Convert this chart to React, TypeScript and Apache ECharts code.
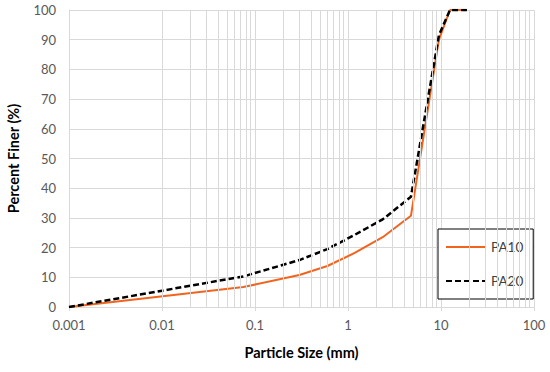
import React, { useEffect, useRef } from "react";
import * as echarts from "echarts";

const sizesPA10 = [0.001, 0.075, 0.3, 0.6, 1.18, 2.36, 4.75, 9.5, 12.5, 19];
const finerPA10 = [0, 6.7, 10.8, 13.8, 18.2, 23.5, 30.7, 90.0, 100, 100];
const sizesPA20 = [0.001, 0.075, 0.3, 0.6, 1.18, 2.36, 4.75, 9.5, 12.5, 19];
const finerPA20 = [0, 10.3, 15.8, 19.5, 24.3, 29.5, 37.1, 91.5, 100, 100];
const xTickLabels = ["0.001", "0.01", "0.1", "1", "10", "100"];
const minorGridValues = [0.001, 0.01, 0.1, 1, 10].flatMap((d) =>
  [2, 3, 4, 5, 6, 7, 8, 9].map((m) => +(d * m).toPrecision(3))
);

const FONT = "Lato, 'Open Sans', sans-serif";
const GRID = "#d9d9d9";

export default function App() {
  const ref = useRef<HTMLDivElement>(null);
  useEffect(() => {
    const chart = echarts.init(ref.current!, null, { renderer: "svg" });
    chart.setOption({
      animation: false,
      backgroundColor: "#ffffff",
      textStyle: { fontFamily: FONT },
      grid: { left: 69, right: 16, top: 10, bottom: 65, containLabel: false, outerBoundsMode: "none" },
      legend: {
        orient: "vertical",
        left: 438,
        top: 229,
        padding: [11, 10, 11, 7],
        itemWidth: 40,
        itemHeight: 14,
        itemGap: 20,
        borderColor: "#000000",
        borderWidth: 1,
        borderRadius: 0,
        backgroundColor: "#ffffff",
        itemStyle: { opacity: 0 },
        textStyle: { fontFamily: FONT, fontSize: 13.5, color: "#404040" },
        data: ["PA10", "PA20"],
      },
      xAxis: {
        type: "log",
        logBase: 10,
        min: 0.001,
        max: 100,
        name: "Particle Size (mm)",
        nameLocation: "middle",
        nameGap: 38,
        nameTextStyle: { fontFamily: FONT, fontSize: 14.5, fontWeight: "bold", color: "#000000" },
        axisLine: { show: true, lineStyle: { color: GRID, width: 1 } },
        axisTick: { show: true, length: 4, lineStyle: { color: GRID } },
        splitLine: { show: true, lineStyle: { color: GRID, width: 1 } },
        axisLabel: {
          margin: 11,
          fontFamily: FONT,
          fontSize: 13,
          color: "#595959",
          formatter: (v: number) => xTickLabels[Math.round(Math.log10(v)) + 3] ?? "",
        },
      },
      yAxis: {
        type: "value",
        min: 0,
        max: 100,
        interval: 10,
        name: "Percent Finer (%)",
        nameLocation: "middle",
        nameGap: 48,
        nameTextStyle: { fontFamily: FONT, fontSize: 14.5, fontWeight: "bold", color: "#000000" },
        axisLine: { show: true, lineStyle: { color: GRID, width: 1 } },
        axisTick: { show: false },
        splitLine: { show: true, lineStyle: { color: GRID, width: 1 } },
        axisLabel: { margin: 13, fontFamily: FONT, fontSize: 13, color: "#595959" },
      },
      series: [
        {
          name: "minor",
          type: "line",
          data: [],
          z: 1,
          silent: true,
          markLine: {
            silent: true,
            symbol: "none",
            label: { show: false },
            lineStyle: { color: GRID, width: 1, type: "solid" },
            emphasis: { disabled: true },
            data: minorGridValues.map((v) => ({ xAxis: v })),
          },
        },
        {
          name: "PA10",
          type: "line",
          z: 3,
          symbol: "none",
          data: sizesPA10.map((s, i) => [s, finerPA10[i]]),
          lineStyle: { color: "#F0641E", width: 2 },
          itemStyle: { color: "#F0641E" },
        },
        {
          name: "PA20",
          type: "line",
          z: 4,
          symbol: "none",
          data: sizesPA20.map((s, i) => [s, finerPA20[i]]),
          lineStyle: { color: "#000000", width: 2.5, type: [6, 3] },
          itemStyle: { color: "#000000" },
        },
      ],
    });
    return () => chart.dispose();
  }, []);
  return <div ref={ref} style={{ width: 550, height: 372, position: "absolute", left: 0, top: 0 }} />;
}
